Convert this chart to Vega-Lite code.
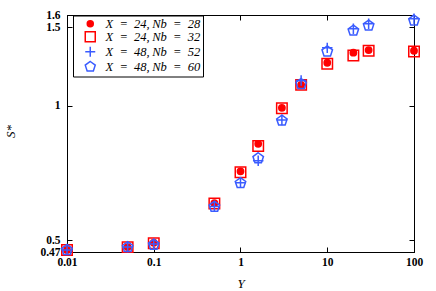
{
  "$schema": "https://vega.github.io/schema/vega-lite/v6.json",
  "width": 347,
  "height": 237,
  "autosize": {"type": "none"},
  "padding": {"left": 67, "top": 15, "right": 22, "bottom": 39},
  "background": "white",
  "config": {
    "view": {"stroke": "black", "strokeWidth": 1},
    "axis": {
      "grid": false,
      "tickSize": -5,
      "tickColor": "black",
      "domainColor": "black",
      "labelColor": "black",
      "labelFont": "Liberation Serif",
      "labelFontWeight": "bold",
      "labelFontSize": 11.5,
      "labelPadding": 11,
      "labelOverlap": false,
      "labelFlush": false,
      "titleFont": "Liberation Serif",
      "titleFontStyle": "italic",
      "titleFontWeight": "normal",
      "titleFontSize": 13,
      "titleColor": "black"
    }
  },
  "data": {
    "values": [
      {"Y": 0.01, "S": 0.475, "series": "A"},
      {"Y": 0.05, "S": 0.482, "series": "A"},
      {"Y": 0.1, "S": 0.493, "series": "A"},
      {"Y": 0.5, "S": 0.605, "series": "A"},
      {"Y": 1, "S": 0.713, "series": "A"},
      {"Y": 1.6, "S": 0.822, "series": "A"},
      {"Y": 3, "S": 0.99, "series": "A"},
      {"Y": 5, "S": 1.115, "series": "A"},
      {"Y": 10, "S": 1.25, "series": "A"},
      {"Y": 20, "S": 1.317, "series": "A"},
      {"Y": 30, "S": 1.335, "series": "A"},
      {"Y": 100, "S": 1.33, "series": "A"},
      {"Y": 0.01, "S": 0.475, "series": "B"},
      {"Y": 0.05, "S": 0.482, "series": "B"},
      {"Y": 0.1, "S": 0.492, "series": "B"},
      {"Y": 0.5, "S": 0.604, "series": "B"},
      {"Y": 1, "S": 0.71, "series": "B"},
      {"Y": 1.6, "S": 0.813, "series": "B"},
      {"Y": 3, "S": 0.988, "series": "B"},
      {"Y": 5, "S": 1.115, "series": "B"},
      {"Y": 10, "S": 1.243, "series": "B"},
      {"Y": 20, "S": 1.297, "series": "B"},
      {"Y": 30, "S": 1.33, "series": "B"},
      {"Y": 100, "S": 1.325, "series": "B"},
      {"Y": 0.01, "S": 0.475, "series": "C"},
      {"Y": 0.05, "S": 0.482, "series": "C"},
      {"Y": 0.1, "S": 0.49, "series": "C"},
      {"Y": 0.5, "S": 0.595, "series": "C"},
      {"Y": 1, "S": 0.672, "series": "C"},
      {"Y": 1.6, "S": 0.753, "series": "C"},
      {"Y": 3, "S": 0.93, "series": "C"},
      {"Y": 5, "S": 1.14, "series": "C"},
      {"Y": 10, "S": 1.35, "series": "C"},
      {"Y": 20, "S": 1.49, "series": "C"},
      {"Y": 30, "S": 1.53, "series": "C"},
      {"Y": 100, "S": 1.57, "series": "C"},
      {"Y": 0.01, "S": 0.475, "series": "D"},
      {"Y": 0.05, "S": 0.482, "series": "D"},
      {"Y": 0.1, "S": 0.488, "series": "D"},
      {"Y": 0.5, "S": 0.594, "series": "D"},
      {"Y": 1, "S": 0.671, "series": "D"},
      {"Y": 1.6, "S": 0.763, "series": "D"},
      {"Y": 3, "S": 0.927, "series": "D"},
      {"Y": 5, "S": 1.12, "series": "D"},
      {"Y": 10, "S": 1.325, "series": "D"},
      {"Y": 20, "S": 1.476, "series": "D"},
      {"Y": 30, "S": 1.515, "series": "D"},
      {"Y": 100, "S": 1.555, "series": "D"}
    ]
  },
  "layer": [
    {
      "mark": {"type": "point", "filled": false, "strokeWidth": 1.5, "size": 110, "opacity": 1},
      "encoding": {
        "x": {
          "field": "Y", "type": "quantitative",
          "scale": {"type": "log", "domain": [0.01, 100], "nice": false},
          "axis": {"orient": "bottom", "values": [0.01, 0.1, 1, 10, 100], "labelExpr": "'' + datum.value", "title": "Y", "titlePadding": 9.5, "labelPadding": 9}
        },
        "y": {
          "field": "S", "type": "quantitative",
          "scale": {"type": "log", "domain": [0.47, 1.6], "nice": false},
          "axis": {"orient": "left", "values": [0.47, 0.5, 1, 1.5, 1.6], "labelExpr": "'' + datum.value", "title": "S*", "titleX": -57, "titleY": 116, "titleBaseline": "middle", "labelPadding": 12}
        },
        "color": {
          "field": "series", "type": "nominal",
          "scale": {"domain": ["A", "B", "C", "D"], "range": ["#ff0000", "#ff0000", "#3a5cff", "#3a5cff"]},
          "legend": {
            "title": null, "orient": "none", "legendX": 6, "legendY": 0.5,
            "labelExpr": "{'A': 'X\u2002=\u200224,\u2009Nb\u2002=\u200228', 'B': 'X\u2002=\u200224,\u2009Nb\u2002=\u200232', 'C': 'X\u2002=\u200248,\u2009Nb\u2002=\u200252', 'D': 'X\u2002=\u200248,\u2009Nb\u2002=\u200260'}[datum.value]",
            "strokeColor": "black", "fillColor": "white", "padding": 2,
            "labelFont": "Liberation Serif", "labelFontStyle": "italic", "labelFontSize": 12.5, "labelColor": "black",
            "symbolSize": 100, "symbolStrokeWidth": 1.5, "rowPadding": -9.5, "symbolOffset": 9, "labelOffset": 9
          }
        },
        "fill": {
          "field": "series", "type": "nominal",
          "scale": {"domain": ["A", "B", "C", "D"], "range": ["#ff0000", "transparent", "transparent", "transparent"]}
        },
        "shape": {
          "field": "series", "type": "nominal",
          "scale": {"domain": ["A", "B", "C", "D"], "range": ["M-0.6,0A0.6,0.6 0 1,0 0.6,0A0.6,0.6 0 1,0 -0.6,0Z", "M-1,-1H1V1H-1Z", "M-1,0H1M0,-1V1", "M0,-1.05L1,-0.32L0.62,0.85L-0.62,0.85L-1,-0.32Z"]}
        }
      }
    },
    {
      "mark": {"type": "point", "opacity": 0},
      "encoding": {
        "x": {
          "field": "Y", "type": "quantitative",
          "scale": {"type": "log", "domain": [0.01, 100], "nice": false},
          "axis": {"orient": "top", "values": [0.01, 0.1, 1, 10, 100], "labels": false, "title": null}
        },
        "y": {
          "field": "S", "type": "quantitative",
          "scale": {"type": "log", "domain": [0.47, 1.6], "nice": false},
          "axis": {"orient": "right", "values": [0.47, 0.5, 1, 1.5, 1.6], "labels": false, "title": null}
        }
      }
    }
  ],
  "resolve": {"axis": {"x": "independent", "y": "independent"}}
}
